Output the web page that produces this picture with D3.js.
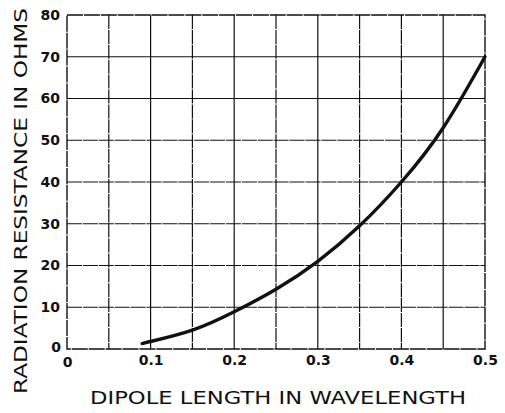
<!DOCTYPE html>
<html>
<head>
<meta charset="utf-8">
<script src="https://cdn.jsdelivr.net/npm/d3@7"></script>
<style>
  html, body { margin: 0; padding: 0; background: #fff; }
  svg { display: block; }
  text { font-family: "DejaVu Sans", sans-serif; fill: #111; }
</style>
</head>
<body>
<svg id="chart" width="505" height="413"></svg>
<script>
// Dipole length (fraction of wavelength) vs. radiation resistance (ohms)
const dipoleLength = [0.09, 0.10, 0.15, 0.20, 0.25, 0.30, 0.35, 0.40, 0.45, 0.50];
const resistance   = [1.3,  1.8,  4.5,  8.9,  14.3, 21.0, 29.5, 40.0, 53.0, 70.0];

const xTicks = [0, 0.1, 0.2, 0.3, 0.4, 0.5];
const xTickLabels = ["0", "0.1", "0.2", "0.3", "0.4", "0.5"];
const yTicks = [0, 10, 20, 30, 40, 50, 60, 70, 80];
const xGrid = [0.05, 0.1, 0.15, 0.2, 0.25, 0.3, 0.35, 0.4, 0.45];
const yGrid = [10, 20, 30, 40, 50, 60, 70];

const xTitle = "DIPOLE LENGTH IN WAVELENGTH";
const yTitle = "RADIATION RESISTANCE IN OHMS";

const svg = d3.select("#chart");
const x = d3.scaleLinear().domain([0, 0.5]).range([67, 485]);
const y = d3.scaleLinear().domain([0, 80]).range([349, 15]);

const ink = "#111";
// printed grid: some rules come out unbroken, others slightly broken
const solidX = new Set([0.1, 0.2, 0.3, 0.45]);
const solidY = new Set([60, 70]);

const grid = svg.append("g").attr("stroke", ink).attr("stroke-width", 1.2).attr("fill", "none");
grid.selectAll("line.vx").data(xGrid).join("line")
  .attr("class", "vx")
  .attr("x1", d => x(d)).attr("x2", d => x(d))
  .attr("y1", y(80)).attr("y2", y(0))
  .attr("stroke-dasharray", d => solidX.has(d) ? null : "14,0.9");
grid.selectAll("line.hy").data(yGrid).join("line")
  .attr("class", "hy")
  .attr("x1", x(0)).attr("x2", x(0.5))
  .attr("y1", d => y(d)).attr("y2", d => y(d))
  .attr("stroke-dasharray", d => solidY.has(d) ? null : "15,0.9");

// frame
grid.append("rect")
  .attr("x", x(0)).attr("y", y(80))
  .attr("width", x(0.5) - x(0)).attr("height", y(0) - y(80))
  .attr("stroke-width", 1.4)
  .attr("stroke-dasharray", "16,0.9");

// axes (labels only; ticks are the grid)
const xAxis = d3.axisBottom(x).tickValues(xTicks)
  .tickFormat((d, i) => xTickLabels[i]).tickSize(0).tickPadding(6);
const gx = svg.append("g").attr("transform", `translate(0,${y(0)})`).call(xAxis);
gx.select(".domain").remove();
gx.selectAll("text").attr("font-size", 14).attr("font-weight", "bold")
  .attr("font-family", "DejaVu Sans").attr("fill", ink).attr("dy", "0.71em");
gx.selectAll(".tick").filter(d => d === 0).select("text").attr("dy", "0.85em");

const yAxis = d3.axisLeft(y).tickValues(yTicks).tickSize(0).tickPadding(7);
const gy = svg.append("g").attr("transform", `translate(${x(0)},0)`).call(yAxis);
gy.select(".domain").remove();
gy.selectAll("text").attr("font-size", 14).attr("font-weight", "bold")
  .attr("font-family", "DejaVu Sans").attr("fill", ink);
gy.selectAll(".tick").filter(d => d === 0).select("text").attr("dy", "0.2em").attr("x", -6);

// curve
const pts = dipoleLength.map((d, i) => [d, resistance[i]]);
svg.append("path")
  .datum(pts)
  .attr("fill", "none")
  .attr("stroke", ink)
  .attr("stroke-width", 3.4)
  .attr("stroke-linecap", "round")
  .attr("d", d3.line().x(d => x(d[0])).y(d => y(d[1])).curve(d3.curveNatural));

// titles
svg.append("text")
  .attr("x", 278).attr("y", 404)
  .attr("text-anchor", "middle")
  .attr("font-size", 18)
  .attr("textLength", 376).attr("lengthAdjust", "spacingAndGlyphs")
  .text(xTitle);

svg.append("text")
  .attr("transform", "translate(27,201) rotate(-90)")
  .attr("text-anchor", "middle")
  .attr("font-size", 18)
  .attr("textLength", 386).attr("lengthAdjust", "spacingAndGlyphs")
  .text(yTitle);
</script>
</body>
</html>
